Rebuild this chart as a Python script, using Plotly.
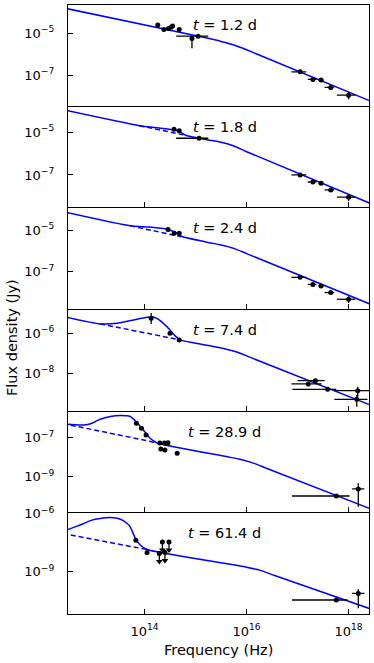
import plotly.graph_objects as go
from plotly.subplots import make_subplots

# values, in log10(Hz) and log10(Jy)
epochs = ["1.2", "1.8", "2.4", "7.4", "28.9", "61.4"]

# model curves (solid) and underlying power law (dashed)
p1_model_nu = [12.4, 15.2, 15.5, 15.75, 16.0, 18.5]
p1_model_f = [-3.80, -5.23, -5.40, -5.57, -5.80, -8.31]
p1_pl_nu = []
p1_pl_f = []

p2_model_nu = [12.4, 13.9, 14.2, 14.45, 14.6, 14.7, 14.82, 15.2, 15.5, 15.75, 16.0, 18.5]
p2_model_f = [-3.94, -4.69, -4.78, -4.85, -4.90, -4.99, -5.15, -5.34, -5.47, -5.64, -5.91, -8.41]
p2_pl_nu = [13.9, 14.82]
p2_pl_f = [-4.69, -5.15]

p3_model_nu = [12.4, 13.72, 14.1, 14.45, 14.6, 14.72, 15.2, 15.5, 15.75, 16.0, 18.5]
p3_model_f = [-4.12, -4.80, -4.86, -4.97, -5.10, -5.30, -5.57, -5.72, -5.88, -6.13, -8.63]
p3_pl_nu = [13.72, 14.72]
p3_pl_f = [-4.80, -5.32]

p4_model_nu = [12.4, 13.13, 13.46, 13.79, 14.05, 14.14, 14.24, 14.37, 14.50, 14.60, 14.70,
               15.3, 15.55, 15.85, 16.1, 18.5]
p4_model_f = [-5.15, -5.53, -5.50, -5.33, -5.20, -5.17, -5.25, -5.50, -5.83, -6.13, -6.33,
              -6.63, -6.76, -6.97, -7.23, -9.66]
p4_pl_nu = [13.13, 14.70]
p4_pl_f = [-5.53, -6.33]

p5_model_nu = [12.4, 12.5, 12.81, 12.97, 13.13, 13.33, 13.53, 13.72, 13.85, 13.98, 14.11, 14.24,
               15.6, 15.85, 16.15, 16.4, 18.5]
p5_model_f = [-6.30, -6.31, -6.35, -6.26, -6.06, -5.92, -5.87, -5.92, -6.22, -6.62, -7.03, -7.26,
              -7.97, -8.10, -8.32, -8.58, -10.72]
p5_pl_nu = [12.4, 14.24]
p5_pl_f = [-6.28, -7.26]

p6_model_nu = [12.4, 12.5, 12.68, 12.81, 12.97, 13.13, 13.33, 13.53, 13.66, 13.72, 13.83, 13.92, 14.05,
               15.75, 16.0, 16.3, 16.55, 18.5]
p6_model_f = [-6.91, -6.82, -6.65, -6.51, -6.34, -6.26, -6.21, -6.29, -6.51, -6.69, -7.33, -7.63, -7.85,
              -8.64, -8.76, -8.95, -9.19, -10.97]
p6_pl_nu = [12.4, 14.05]
p6_pl_f = [-7.03, -7.85]

# detections (optical/UV then X-ray), with error bar bounds where drawn
p1_nu = [14.26, 14.38, 14.47, 14.52, 14.55, 14.68, 14.93, 15.05, 17.05, 17.30, 17.46, 17.65, 18.00]
p1_f = [-4.62, -4.83, -4.78, -4.73, -4.67, -4.83, -5.26, -5.15, -6.85, -7.21, -7.24, -7.59, -7.96]
p1_nu_lo = [None] * 7 + [14.62, 16.88, 17.20, 17.41, 17.53, 17.77]
p1_nu_hi = [None] * 7 + [15.25, 17.17, 17.37, 17.51, 17.72, 18.13]
p1_f_lo = [None] * 6 + [-5.73] + [None] * 5 + [-8.15]
p1_f_hi = [None] * 6 + [-5.21] + [None] * 5 + [-7.82]

p2_nu = [14.58, 14.68, 15.07, 17.05, 17.30, 17.46, 17.65, 18.00]
p2_f = [-4.86, -4.93, -5.28, -7.00, -7.33, -7.39, -7.70, -8.04]
p2_nu_lo = [None, None, 14.62, 16.88, 17.20, 17.41, 17.53, 17.77]
p2_nu_hi = [None, None, 15.25, 17.17, 17.37, 17.51, 17.72, 18.13]
p2_f_lo = [None] * 7 + [-8.22]
p2_f_hi = [None] * 7 + [-7.90]

p3_nu = [14.46, 14.58, 14.68, 17.05, 17.30, 17.46, 17.65, 18.00]
p3_f = [-4.98, -5.16, -5.16, -7.27, -7.61, -7.68, -8.00, -8.32]
p3_nu_lo = [None] * 3 + [16.88, 17.20, 17.41, 17.53, 17.77]
p3_nu_hi = [None] * 3 + [17.17, 17.37, 17.51, 17.72, 18.13]
p3_f_lo = [None] * 7 + [-8.50]
p3_f_hi = [None] * 7 + [-8.18]

p4_nu = [14.13, 14.50, 14.68, 17.21, 17.35, 17.59, 18.18, 18.16]
p4_f = [-5.25, -6.00, -6.33, -8.53, -8.37, -8.80, -8.87, -9.30]
p4_nu_lo = [None] * 3 + [16.88, 17.00, 16.90, 17.72, 17.72]
p4_nu_hi = [None] * 3 + [17.47, 17.53, 17.76, 18.45, 18.37]
p4_f_lo = [-5.53] + [None] * 5 + [-9.17, -9.67]
p4_f_hi = [-4.98] + [None] * 5 + [-8.67, -9.08]

p5_nu = [13.84, 13.94, 14.03, 14.30, 14.32, 14.39, 14.40, 14.46, 14.64, 17.76, 18.19]
p5_f = [-6.26, -6.52, -6.86, -7.27, -7.58, -7.27, -7.63, -7.26, -7.80, -9.99, -9.63]
p5_nu_lo = [None] * 9 + [16.89, 18.07]
p5_nu_hi = [None] * 9 + [18.02, 18.31]
p5_f_lo = [None] * 10 + [-10.54]
p5_f_hi = [None] * 10 + [-9.34]

p6_nu = [13.83, 14.05, 17.76, 18.19]
p6_f = [-7.37, -8.00, -10.45, -10.11]
p6_nu_lo = [None, None, 16.89, 18.07]
p6_nu_hi = [None, None, 17.98, 18.31]
p6_f_lo = [None, None, None, -10.88]
p6_f_hi = [None, None, None, -9.89]

# upper limits (61.4 d)
p6_ul_nu = [14.29, 14.35, 14.40, 14.48]
p6_ul_f = [-8.05, -7.46, -8.00, -7.46]

# axes
y_ticks = [[-5, -7], [-5, -7], [-5, -7], [-6, -8], [-7, -9], [-6, -9]]
y_ranges = [[-8.46, -3.667], [-8.52, -3.80], [-8.79, -3.96], [-9.87, -4.835],
            [-10.83, -5.67], [-11.17, -5.99]]
x_ticks = [14, 16, 18]

models = [(p1_model_nu, p1_model_f), (p2_model_nu, p2_model_f), (p3_model_nu, p3_model_f),
          (p4_model_nu, p4_model_f), (p5_model_nu, p5_model_f), (p6_model_nu, p6_model_f)]
powerlaws = [(p1_pl_nu, p1_pl_f), (p2_pl_nu, p2_pl_f), (p3_pl_nu, p3_pl_f),
             (p4_pl_nu, p4_pl_f), (p5_pl_nu, p5_pl_f), (p6_pl_nu, p6_pl_f)]
points = [
    (p1_nu, p1_f, p1_nu_lo, p1_nu_hi, p1_f_lo, p1_f_hi),
    (p2_nu, p2_f, p2_nu_lo, p2_nu_hi, p2_f_lo, p2_f_hi),
    (p3_nu, p3_f, p3_nu_lo, p3_nu_hi, p3_f_lo, p3_f_hi),
    (p4_nu, p4_f, p4_nu_lo, p4_nu_hi, p4_f_lo, p4_f_hi),
    (p5_nu, p5_f, p5_nu_lo, p5_nu_hi, p5_f_lo, p5_f_hi),
    (p6_nu, p6_f, p6_nu_lo, p6_nu_hi, p6_f_lo, p6_f_hi),
]


def lin(v):
    return [10.0 ** a for a in v]


def bars(c, lo, hi):
    plus = [0 if h is None else 10 ** h - 10 ** m for m, h in zip(c, hi)]
    minus = [0 if l is None else 10 ** m - 10 ** l for m, l in zip(c, lo)]
    return plus, minus


def sup(p):
    return "10<sup>" + str(p).replace("-", "\u2212") + "</sup>"


W, H = 374, 663
ML, MR, MT, MB = 68, 5, 5, 49
ph = H - MT - MB
panel_step, panel_h = 101.67, 100.7
FONT = "DejaVu Sans"
BLUE = "#0000ff"

fig = make_subplots(rows=6, cols=1, shared_xaxes=True, vertical_spacing=0.002)

for i in range(6):
    row = i + 1
    mx, mf = models[i]
    fig.add_trace(go.Scatter(x=lin(mx), y=lin(mf), mode="lines",
                             line=dict(color=BLUE, width=1.5, shape="spline", smoothing=0.6),
                             hoverinfo="skip"), row=row, col=1)
    px_, pf_ = powerlaws[i]
    if px_:
        fig.add_trace(go.Scatter(x=lin(px_), y=lin(pf_), mode="lines",
                                 line=dict(color=BLUE, width=1.5, dash="5px,3px"),
                                 hoverinfo="skip"), row=row, col=1)

    nu, f, nlo, nhi, flo, fhi = points[i]
    xp, xm = bars(nu, nlo, nhi)
    yp, ym = bars(f, flo, fhi)
    fig.add_trace(go.Scatter(
        x=lin(nu), y=lin(f), mode="markers",
        marker=dict(color="black", size=5),
        error_x=dict(type="data", symmetric=False, array=xp, arrayminus=xm,
                     color="black", thickness=1.3, width=0),
        error_y=dict(type="data", symmetric=False, array=yp, arrayminus=ym,
                     color="black", thickness=1.3, width=0),
    ), row=row, col=1)

# upper limits: dot with a downward arrow
ul_len = 0.42
ul_y = lin(p6_ul_f)
ul_tip = [10 ** (v - ul_len) for v in p6_ul_f]
fig.add_trace(go.Scatter(
    x=lin(p6_ul_nu), y=ul_y, mode="markers",
    marker=dict(color="black", size=5),
    error_y=dict(type="data", symmetric=False, array=[0] * 4,
                 arrayminus=[a - b for a, b in zip(ul_y, ul_tip)],
                 color="black", thickness=1.3, width=0),
), row=6, col=1)
fig.add_trace(go.Scatter(
    x=lin(p6_ul_nu), y=ul_tip, mode="markers",
    marker=dict(color="black", size=6, symbol="triangle-down"),
), row=6, col=1)

for i in range(6):
    row = i + 1
    top = MT + i * panel_step
    bot = min(top + panel_h, H - MB)
    fig.update_yaxes(
        type="log", range=y_ranges[i], automargin=False,
        domain=[max(0.0, 1 - (bot - MT) / ph), min(1.0, 1 - (top - MT) / ph)],
        tickmode="array", tickvals=[10.0 ** p for p in y_ticks[i]],
        ticktext=[sup(p) for p in y_ticks[i]],
        ticks="inside", ticklen=5, tickwidth=1.2, tickcolor="black",
        ticklabelstandoff=10,
        showline=True, mirror=True, linecolor="black", linewidth=1.3,
        showgrid=False, zeroline=False,
        tickfont=dict(family=FONT, size=13, color="black"),
        row=row, col=1,
    )
    fig.update_xaxes(
        type="log", range=[12.5, 18.4], automargin=False,
        tickmode="array", tickvals=[10.0 ** p for p in x_ticks],
        ticktext=[sup(p) for p in x_ticks],
        ticks="" if i == 0 else "inside", ticklen=5, tickwidth=1.2, tickcolor="black",
        showticklabels=(i == 5), ticklabelstandoff=5,
        showline=True, mirror=True, linecolor="black", linewidth=1.3,
        showgrid=False, zeroline=False,
        tickfont=dict(family=FONT, size=13, color="black"),
        row=row, col=1,
    )
    fig.add_annotation(
        x=(224.5 - ML) / (W - ML - MR), y=1 - (top + 20 - MT) / ph,
        xref="paper", yref="paper", showarrow=False,
        xanchor="center", yanchor="middle",
        text="<i>t</i> = " + epochs[i] + " d",
        font=dict(family=FONT, size=14.5, color="black"),
    )

fig.add_annotation(
    x=(12 - ML) / (W - ML - MR), y=1 - (338 - MT) / ph,
    xref="paper", yref="paper", showarrow=False, textangle=-90,
    xanchor="center", yanchor="middle", text="Flux density (Jy)",
    font=dict(family=FONT, size=14.5, color="black"),
)
fig.add_annotation(
    x=0.5, y=1 - (650 - MT) / ph,
    xref="paper", yref="paper", showarrow=False,
    xanchor="center", yanchor="middle", text="Frequency (Hz)",
    font=dict(family=FONT, size=14.5, color="black"),
)

fig.update_layout(
    width=W, height=H, showlegend=False,
    margin=dict(l=ML, r=MR, t=MT, b=MB, autoexpand=False),
    paper_bgcolor="white", plot_bgcolor="white",
    font=dict(family=FONT, color="black"),
)

fig.write_html("out.html", config={"displayModeBar": False},
               post_script="document.body.style.margin='0px';document.body.style.overflow='hidden';")
